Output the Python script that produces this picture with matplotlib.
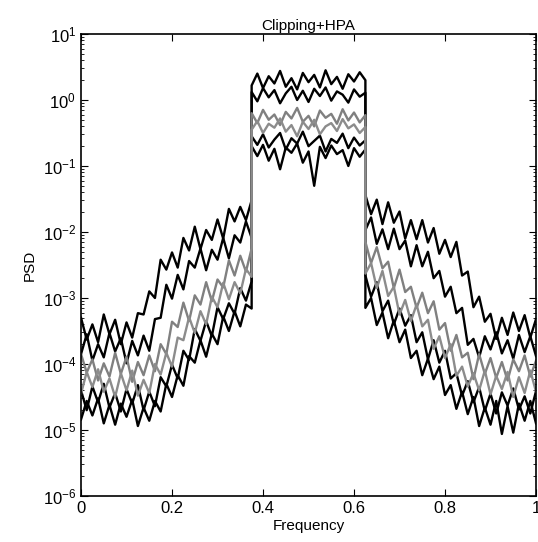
import numpy as np
import matplotlib
matplotlib.use("Agg")
import matplotlib.pyplot as plt
from matplotlib.ticker import LogLocator, NullFormatter

plt.rcParams['font.family'] = ['Liberation Sans', 'DejaVu Sans']

# frequency grid: lower sideband, passband, upper sideband
f_left = np.linspace(0, 0.375, 31)
f_mid = np.linspace(0.375, 0.625, 21)
f_right = np.linspace(0.625, 1.0, 31)

# PSD values, stored as log10(PSD)
c1_left = [-3.30, -3.63, -3.40, -3.67, -3.25, -3.55, -3.33, -3.70, -3.37, -3.60, -3.23,
           -3.25, -2.90, -3.00, -2.42, -2.57, -2.31, -2.54, -2.09, -2.28, -1.92,
           -2.26, -1.97, -2.12, -1.81, -2.10, -1.65, -1.84, -1.62, -1.82, -1.52]
c1_mid = [0.22, 0.40, 0.18, 0.36, 0.25, 0.44, 0.20, 0.33, 0.16, 0.41, 0.27,
          0.38, 0.19, 0.45, 0.24, 0.35, 0.17, 0.39, 0.28, 0.42, 0.30]
c1_right = [-1.44, -1.73, -1.51, -1.88, -1.55, -1.86, -1.69, -2.10, -1.82, -2.11, -1.82,
            -2.16, -1.94, -2.33, -2.12, -2.38, -2.15, -2.66, -2.60, -3.14, -2.98,
            -3.36, -3.24, -3.62, -3.30, -3.56, -3.22, -3.50, -3.26, -3.60, -3.32]

c2_left = [-3.85, -3.55, -3.95, -3.70, -3.90, -3.53, -3.81, -3.61, -3.99, -3.65, -3.87,
           -3.57, -3.80, -3.32, -3.30, -2.80, -3.01, -2.65, -2.87, -2.44, -2.54,
           -2.25, -2.58, -2.27, -2.42, -2.09, -2.40, -2.05, -2.16, -1.84, -2.09]
c2_mid = [0.12, -0.02, 0.18, 0.04, 0.15, -0.05, 0.10, 0.20, 0.00, 0.14, -0.03,
          0.17, 0.06, 0.19, -0.01, 0.13, 0.08, -0.04, 0.16, 0.05, 0.11]
c2_right = [-1.97, -1.78, -2.18, -1.96, -2.26, -1.95, -2.26, -2.13, -2.52, -2.20, -2.52,
            -2.30, -2.70, -2.59, -2.98, -2.83, -3.23, -3.15, -3.71, -3.62, -3.90,
            -3.58, -3.78, -3.52, -3.84, -3.64, -3.92, -3.56, -3.82, -3.58, -3.88]

c3_left = [-3.85, -4.13, -3.93, -4.25, -3.99, -4.19, -3.83, -4.15, -3.89, -4.27, -3.97,
           -4.17, -3.87, -4.11, -3.70, -3.85, -3.36, -3.44, -3.07, -3.35, -2.96,
           -3.10, -2.76, -3.05, -2.72, -2.84, -2.43, -2.66, -2.36, -2.60, -2.25]
c3_mid = [-0.20, -0.35, -0.15, -0.30, -0.22, -0.38, -0.18, -0.28, -0.12, -0.33, -0.24,
          -0.40, -0.16, -0.27, -0.21, -0.36, -0.14, -0.31, -0.19, -0.34, -0.23]
c3_right = [-2.15, -2.47, -2.23, -2.55, -2.45, -2.85, -2.57, -2.91, -2.83, -3.15, -2.92,
            -3.23, -3.05, -3.48, -3.38, -3.80, -3.56, -3.90, -3.83, -4.23, -3.85,
            -4.15, -3.91, -4.21, -3.97, -4.25, -3.93, -4.11, -3.87, -4.19, -3.95]

c4_left = [-4.45, -4.12, -4.35, -4.08, -4.42, -4.22, -4.50, -4.14, -4.40, -4.10, -4.48,
           -4.24, -4.44, -4.00, -4.16, -3.83, -4.04, -3.60, -3.64, -3.29, -3.53,
           -3.20, -3.40, -2.98, -3.14, -2.77, -3.02, -2.76, -2.93, -2.56, -2.68]
c4_mid = [-0.45, -0.32, -0.50, -0.36, -0.42, -0.28, -0.48, -0.38, -0.55, -0.33, -0.44,
          -0.30, -0.52, -0.40, -0.35, -0.47, -0.29, -0.43, -0.37, -0.50, -0.41]
c4_right = [-2.63, -2.47, -2.85, -2.59, -2.97, -2.83, -3.25, -3.03, -3.35, -3.10, -3.43,
            -3.33, -3.77, -3.58, -3.91, -3.70, -4.18, -4.04, -4.34, -4.14, -4.40,
            -4.10, -4.46, -4.18, -4.38, -4.12, -4.50, -4.20, -4.44, -4.10, -4.42]

c5_left = [-4.40, -4.70, -4.34, -4.58, -4.30, -4.66, -4.44, -4.72, -4.38, -4.60, -4.32,
           -4.70, -4.42, -4.64, -4.20, -4.34, -4.01, -4.22, -3.80, -3.94, -3.47,
           -3.65, -3.35, -3.58, -3.14, -3.32, -3.08, -3.24, -2.85, -3.04, -2.75]
c5_mid = [-0.55, -0.68, -0.52, -0.72, -0.60, -0.50, -0.75, -0.58, -0.66, -0.48, -0.70,
          -0.62, -0.54, -0.78, -0.59, -0.65, -0.51, -0.73, -0.57, -0.69, -0.61]
c5_right = [-2.66, -2.98, -2.76, -3.20, -3.04, -3.40, -3.16, -3.42, -3.26, -3.67, -3.52,
            -3.93, -3.64, -3.98, -3.80, -4.22, -4.14, -4.48, -4.26, -4.58, -4.35,
            -4.71, -4.45, -4.75, -4.43, -4.63, -4.37, -4.69, -4.49, -4.75, -4.41]

c6_left = [-4.84, -4.56, -4.78, -4.52, -4.90, -4.62, -4.92, -4.60, -4.80, -4.54, -4.94,
           -4.66, -4.86, -4.56, -4.72, -4.30, -4.50, -4.17, -4.33, -3.88, -3.98,
           -3.64, -3.89, -3.54, -3.70, -3.28, -3.50, -3.20, -3.43, -3.10, -3.16]
c6_mid = [-0.70, -0.85, -0.68, -0.92, -0.74, -1.05, -0.72, -0.80, -0.66, -0.95, -0.78,
          -1.30, -0.71, -0.88, -0.69, -0.82, -0.76, -1.00, -0.73, -0.86, -0.75]
c6_right = [-3.15, -3.00, -3.41, -3.22, -3.61, -3.34, -3.67, -3.48, -3.91, -3.80, -4.17,
            -3.92, -4.23, -4.04, -4.47, -4.32, -4.68, -4.42, -4.76, -4.50, -4.94,
            -4.66, -4.92, -4.56, -5.06, -4.64, -5.04, -4.60, -4.86, -4.56, -4.90]

curves = [
    (c1_left, c1_mid, c1_right, 'black'),
    (c2_left, c2_mid, c2_right, 'black'),
    (c5_left, c5_mid, c5_right, 'black'),
    (c6_left, c6_mid, c6_right, 'black'),
    (c3_left, c3_mid, c3_right, '0.5'),
    (c4_left, c4_mid, c4_right, '0.55'),
]

freq = np.concatenate([f_left, f_mid, f_right])

fig = plt.figure(figsize=(5.38, 5.42), dpi=100)
ax = fig.add_axes([0.1506, 0.0849, 0.8457, 0.8524])

for left, mid, right, color in curves:
    logpsd = np.concatenate([left, mid, right])
    ax.semilogy(freq, 10.0 ** logpsd, color=color, lw=1.7)

ax.set_xlim(0, 1)
ax.set_ylim(1e-6, 1e1)
ax.set_xticks([0, 0.2, 0.4, 0.6, 0.8, 1])
ax.set_xticklabels(['0', '0.2', '0.4', '0.6', '0.8', '1'])
ax.yaxis.set_major_locator(LogLocator(base=10, numticks=10))
ax.yaxis.set_minor_locator(LogLocator(base=10, subs=np.arange(2, 10), numticks=100))
ax.yaxis.set_minor_formatter(NullFormatter())

ax.tick_params(which='both', direction='in', top=True, right=True, labelsize=12)
ax.tick_params(which='major', length=5)
ax.tick_params(which='minor', length=2.5)
for s in ax.spines.values():
    s.set_linewidth(1.2)

ax.set_xlabel('Frequency', fontsize=11, labelpad=2)
ax.set_ylabel('PSD', fontsize=11, labelpad=4)
ax.set_title('Clipping+HPA', fontsize=11, pad=3)

fig.savefig('out.png', dpi=100)
